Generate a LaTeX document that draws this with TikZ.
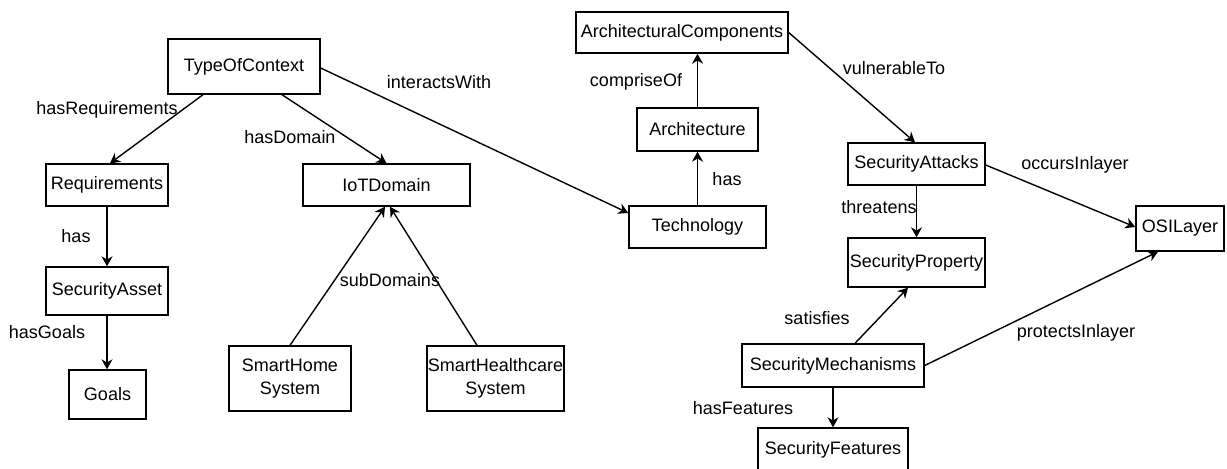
\documentclass[tikz,border=0pt]{standalone}
\usepackage{fontspec}
\setmainfont{Liberation Sans}
\usetikzlibrary{arrows.meta,calc}
\begin{document}
\begin{tikzpicture}[x=0.5pt,y=-0.5pt,
  box/.style={draw=black, line width=0.7pt, inner sep=0pt, align=center,
    font=\fontsize{9}{11.5}\selectfont},
  rel/.style={draw=black, line width=0.7pt, -{Stealth[length=5pt,width=5.5pt,inset=1.6pt]}},
  lbl/.style={inner sep=0pt, font=\fontsize{9}{9.6}\selectfont}]
\useasboundingbox (0,0) rectangle (1227,468);
% nodes
\node[box, minimum width=76pt, minimum height=27.5pt] (toc) at (244,66.5) {TypeOfContext};
\node[box, minimum width=61pt, minimum height=21pt] (req) at (107,185) {Requirements};
\node[box, minimum width=83.5pt, minimum height=21pt] (iot) at (386.5,185) {IoTDomain};
\node[box, minimum width=61pt, minimum height=24pt] (asset) at (107,291) {SecurityAsset};
\node[box, minimum width=38.5pt, minimum height=24.5pt] (goals) at (107.5,394.5) {Goals};
\node[box, minimum width=61pt, minimum height=32.5pt] (home) at (290,378.5) {SmartHome\\System};
\node[box, minimum width=68.5pt, minimum height=32.5pt] (health) at (495.5,378.5) {SmartHealthcare\\System};
\node[box, minimum width=106pt, minimum height=20.5pt] (archc) at (682,32.5) {ArchitecturalComponents};
\node[box, minimum width=60.5pt, minimum height=21.5pt] (arch) at (697.5,129.5) {Architecture};
\node[box, minimum width=68.5pt, minimum height=21pt] (tech) at (697.5,227) {Technology};
\node[box, minimum width=68.5pt, minimum height=21pt] (attacks) at (916.5,164) {SecurityAttacks};
\node[box, minimum width=68.5pt, minimum height=24.5pt] (prop) at (916.5,262.5) {SecurityProperty};
\node[box, minimum width=44pt, minimum height=22.5pt] (osi) at (1180,228.5) {OSILayer};
\node[box, minimum width=91pt, minimum height=21.5pt] (mech) at (833,365.5) {SecurityMechanisms};
\node[box, minimum width=75pt, minimum height=22pt] (feat) at (833,450) {SecurityFeatures};
% connectors
\draw[rel] ($(toc.south)+(-41,0)$) -- ($(req.north)+(3,0)$);
\draw[rel] ($(toc.south)+(38,0)$) -- (iot.north);
\draw[rel] ($(toc.east)+(0,1.5)$) -- ($(tech.west)+(0,-14)$);
\draw[rel] (req.south) -- (req.south |- asset.north);
\draw[rel] (asset.south) -- (asset.south |- goals.north);
\draw[rel] (home.north) -- ($(iot.south)+(-1.5,0)$);
\draw[rel] ($(health.north)+(-18.5,0)$) -- ($(iot.south)+(3.5,0)$);
\draw[rel] (arch.north) -- (arch.north |- archc.south);
\draw[rel] (tech.north) -- (arch.south);
\draw[rel] (archc.east) -- ($(attacks.north)+(-1.5,0)$);
\draw[rel] ($(attacks.east)+(0,1)$) -- ($(osi.west)+(0,-1.5)$);
\draw[rel] (attacks.south) -- (prop.north);
\draw[rel] ($(mech.north)+(22,0)$) -- ($(prop.south)+(-8.5,0)$);
\draw[rel] (mech.east) -- ($(osi.south)+(-22,0)$);
\draw[rel] (mech.south) -- (feat.north);
% labels
\node[lbl] (l1) at (107,110) {hasRequirements};
\node[lbl] (l2) at (290,137) {hasDomain};
\node[lbl] (l3) at (439,82) {interactsWith};
\node[lbl] (l4) at (76,236) {has};
\node[lbl] (l5) at (47,332) {hasGoals};
\node[lbl] (l6) at (390,280) {subDomains};
\node[lbl] (l7) at (636,82) {compriseOf};
\node[lbl] (l8) at (727,179) {has};
\node[lbl] (l9) at (894,68) {vulnerableTo};
\node[lbl] (l10) at (1075,165) {occursInlayer};
\node[lbl] (l11) at (879,207) {threatens};
\node[lbl] (l12) at (817,318) {satisfies};
\node[lbl] (l13) at (1076,333) {protectsInlayer};
\node[lbl] (l14) at (743,408) {hasFeatures};
\end{tikzpicture}
\end{document}
